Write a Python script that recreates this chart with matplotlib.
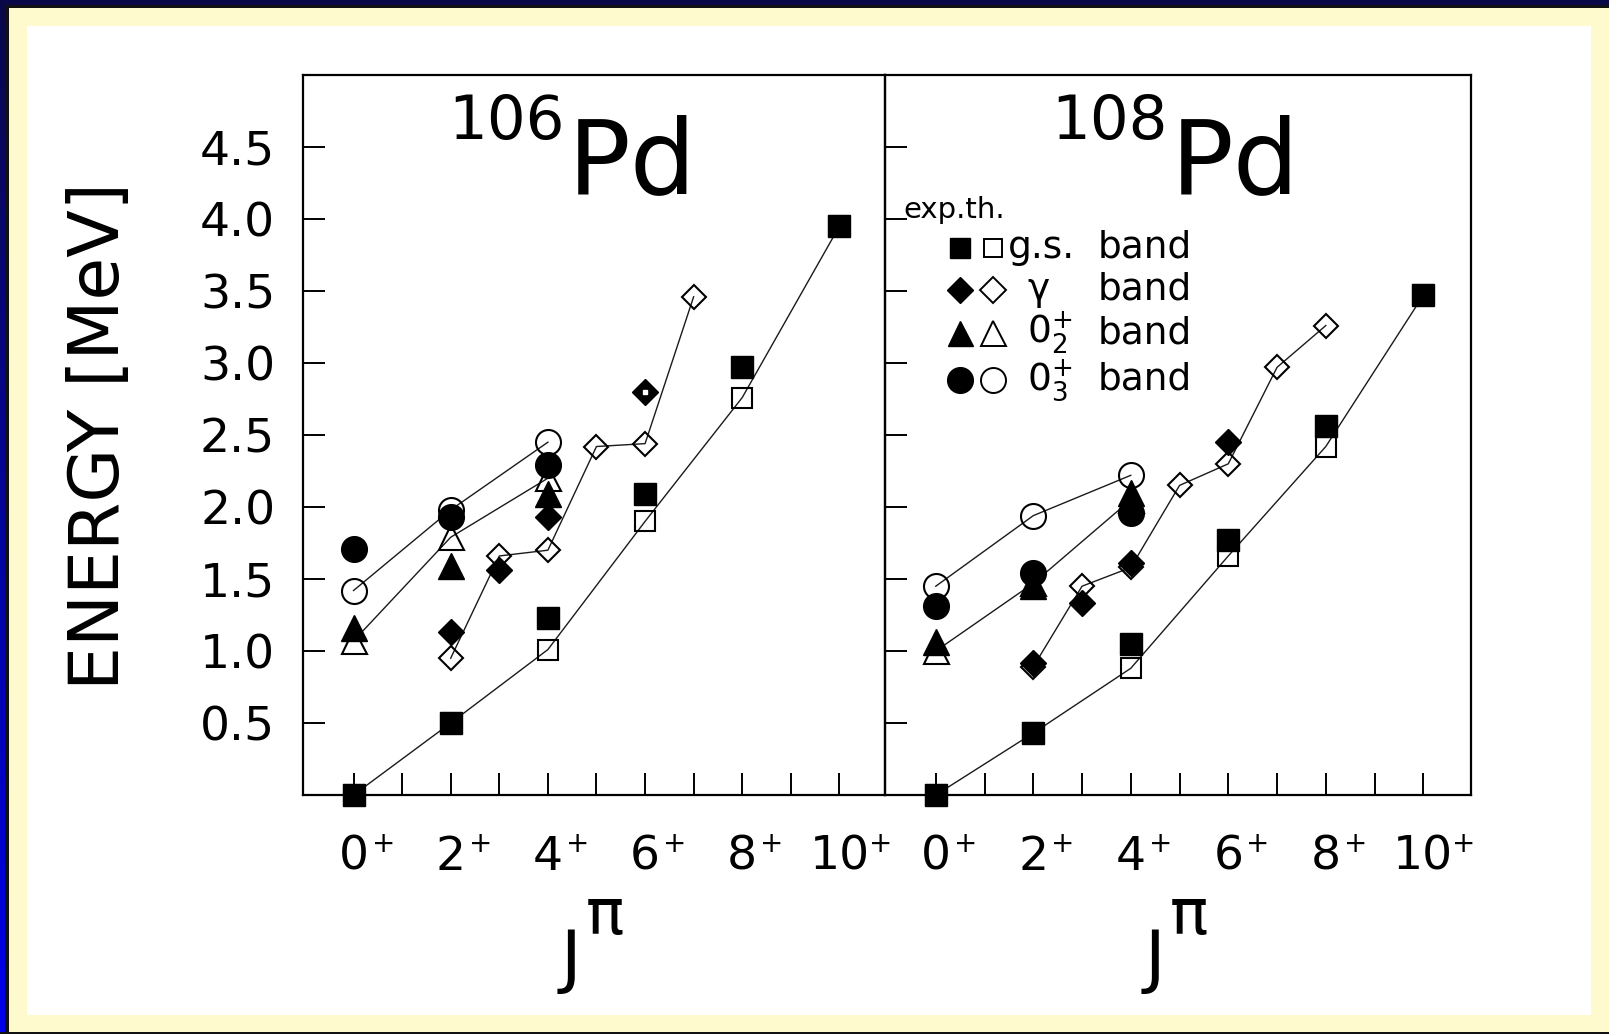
import numpy as np
import matplotlib
matplotlib.use("Agg")
import matplotlib.pyplot as plt
from matplotlib.patches import Rectangle
from matplotlib.transforms import blended_transform_factory, ScaledTranslation

plt.rcParams['font.family'] = ['DejaVu Sans']

# ---------------- data ----------------
gs_J = [0, 2, 4, 6, 8, 10]
pd106_gs_exp = [0.00, 0.50, 1.23, 2.09, 2.97, 3.95]
pd106_gs_th = [0.00, 0.50, 1.01, 1.90, 2.76, 3.95]
pd106_gam_exp_J = [2, 3, 4, 6]
pd106_gam_exp = [1.13, 1.56, 1.93, 2.80]
pd106_gam_th_J = [2, 3, 4, 5, 6, 7]
pd106_gam_th = [0.95, 1.66, 1.70, 2.42, 2.44, 3.46]
band0_J = [0, 2, 4]
pd106_02_exp = [1.16, 1.59, 2.09]
pd106_02_th = [1.07, 1.79, 2.20]
pd106_03_exp = [1.71, 1.93, 2.29]
pd106_03_th = [1.42, 1.98, 2.45]

pd108_gs_exp = [0.00, 0.43, 1.05, 1.77, 2.56, 3.47]
pd108_gs_th = [0.00, 0.43, 0.88, 1.66, 2.42, 3.47]
pd108_gam_exp_J = [2, 3, 4, 6]
pd108_gam_exp = [0.92, 1.33, 1.61, 2.45]
pd108_gam_th_J = [2, 3, 4, 5, 6, 7, 8]
pd108_gam_th = [0.89, 1.45, 1.58, 2.15, 2.30, 2.97, 3.26]
pd108_02_exp = [1.06, 1.45, 2.10]
pd108_02_th = [1.00, 1.47, 2.05]
pd108_03_exp = [1.31, 1.54, 1.96]
pd108_03_th = [1.45, 1.94, 2.22]

y_ticks = [0.5, 1.0, 1.5, 2.0, 2.5, 3.0, 3.5, 4.0, 4.5]
y_ticklabels = ["0.5", "1.0", "1.5", "2.0", "2.5", "3.0", "3.5", "4.0", "4.5"]
x_label_J = [0, 2, 4, 6, 8, 10]
x_label_txt = ["0", "2", "4", "6", "8", "10"]
nuclei = [("106", "Pd"), ("108", "Pd")]
legend_labels = ["g.s.", "γ", "$0^{+}_{2}$", "$0^{+}_{3}$"]

# ---------------- figure & frame ----------------
W, H = 1609, 1034
fig = plt.figure(figsize=(W / 100, H / 100), dpi=100)
fig.patch.set_facecolor('#0a0848')

bg = fig.add_axes([0, 0, 1, 1], zorder=0)
bg.axis('off')
t = np.linspace(0, 1, 256)
top_c = np.array([10, 8, 72]) / 255.0
bot_c = np.array([0, 0, 235]) / 255.0
grad = (top_c[None, :] * (1 - t[:, None]) + bot_c[None, :] * t[:, None])[:, None, :]
bg.imshow(grad, extent=(0, 5.5, H, 0), origin='upper', aspect='auto', interpolation='bilinear')
bg.add_patch(Rectangle((5.5, 5), 3.5, H, color='#111111', lw=0))
bg.add_patch(Rectangle((5.5, 5), W, 3.2, color='#111111', lw=0))
bg.add_patch(Rectangle((9, 8.2), W, 1032 - 8.2, color='#FFF9CE', lw=0))
bg.add_patch(Rectangle((0, 1032), W, 2, color='#111111', lw=0))
bg.add_patch(Rectangle((27, 26), 1591 - 27, 1015 - 26, color='white', lw=0))
bg.set_xlim(0, W)
bg.set_ylim(H, 0)

ov = fig.add_axes([0, 0, 1, 1], zorder=10)
ov.set_xlim(0, W)
ov.set_ylim(H, 0)
ov.axis('off')
ov.patch.set_alpha(0)

y_bot, y_top = 795.0, 75.0
x0, xm, x1 = 303.0, 884.6, 1470.6
ax1 = fig.add_axes([x0 / W, 1 - y_bot / H, (xm - x0) / W, (y_bot - y_top) / H], zorder=2)
ax2 = fig.add_axes([xm / W, 1 - y_bot / H, (x1 - xm) / W, (y_bot - y_top) / H], zorder=2)
ax1.set_xlim(-1.04, 10.93)
ax2.set_xlim(-1.05, 10.97)

LC = '#1a1a1a'

def panel(ax, gs_exp, gs_th, gJe, gexp, gJt, gth, e02, t02, e03, t03):
    kw_line = dict(color=LC, lw=1.0, zorder=2, clip_on=False)
    for xs, ys in [(gs_J, gs_th), (gJt, gth), (band0_J, t02), (band0_J, t03)]:
        ax.plot(xs, ys, '-', **kw_line)
    kw_open = dict(ls='none', mfc='none', mec='black', mew=1.5, zorder=3, clip_on=False)
    ax.plot(gs_J, gs_th, marker='s', ms=15, **kw_open)
    ax.plot(gJt, gth, marker='D', ms=12.5, **kw_open)
    ax.plot(band0_J, t02, marker='^', ms=18, **kw_open)
    ax.plot(band0_J, t03, marker='o', ms=18, **kw_open)
    kw_fill = dict(ls='none', color='black', zorder=4, clip_on=False)
    ax.plot(gs_J, gs_exp, marker='s', ms=15.5, **kw_fill)
    ax.plot(gJe, gexp, marker='D', ms=13.5, **kw_fill)
    ax.plot(band0_J, e02, marker='^', ms=18.5, **kw_fill)
    ax.plot(band0_J, e03, marker='o', ms=18.5, **kw_fill)

    ax.set_ylim(0, 5.0)
    ax.set_yticks(y_ticks)
    ax.set_xticks(range(0, 11))
    ax.tick_params(direction='in', length=16, width=1.4, top=False, right=False,
                   labelbottom=False)
    for s in ax.spines.values():
        s.set_linewidth(1.6)
    ax.set_facecolor('none')

    tr = blended_transform_factory(ax.transData, ax.transAxes)
    for J, lab in zip(x_label_J, x_label_txt):
        ax.text(J, -0.104, lab, transform=tr, ha='center', va='baseline',
                fontsize=34, clip_on=False)
        dx = 13 if len(lab) == 1 else 21
        ax.text(J, -0.079, '+', ha='left', va='baseline', fontsize=20,
                transform=tr + ScaledTranslation(dx / 72, 0, fig.dpi_scale_trans),
                clip_on=False)

panel(ax1, pd106_gs_exp, pd106_gs_th, pd106_gam_exp_J, pd106_gam_exp, pd106_gam_th_J,
      pd106_gam_th, pd106_02_exp, pd106_02_th, pd106_03_exp, pd106_03_th)
panel(ax2, pd108_gs_exp, pd108_gs_th, pd108_gam_exp_J, pd108_gam_exp, pd108_gam_th_J,
      pd108_gam_th, pd108_02_exp, pd108_02_th, pd108_03_exp, pd108_03_th)

# the odd 6+ gamma exp point in 106Pd has a white centre
ax1.plot([pd106_gam_exp_J[-1]], [pd106_gam_exp[-1]], ls='none', marker='s', ms=3.5,
         color='white', zorder=5)

ax1.set_yticklabels(y_ticklabels, fontsize=34)
ax1.tick_params(axis='y', pad=20)
ax2.tick_params(axis='y', labelleft=False)

# ---------------- texts ----------------
ov.text(100, 436, 'ENERGY [MeV]', rotation=90, fontsize=50, ha='center', va='center')

title_pos = [(448, 138.5, 568, 193), (1051, 138.5, 1171, 193)]
for (mass, el), (xs, ys, xe, ye) in zip(nuclei, title_pos):
    ov.text(xs, ys, mass, fontsize=44, ha='left', va='baseline')
    ov.text(xe, ye, el, fontsize=75, ha='left', va='baseline')

for xc in [(x0 + xm) / 2, (xm + x1) / 2]:
    ov.text(xc - 33, 980, 'J', fontsize=50, ha='left', va='baseline')
    ov.text(xc - 8, 934, 'π', fontsize=46, ha='left', va='baseline')

# ---------------- legend ----------------
ov.text(903, 218, 'exp.th.', fontsize=21, ha='left', va='baseline')
rows_y = [248, 290, 333, 380]
mk = ['s', 'D', '^', 'o']
ms_f = [14, 13, 18, 18.5]
ms_o = [13, 13, 18, 18]
for yy, m, mf, mo, lab in zip(rows_y, mk, ms_f, ms_o, legend_labels):
    ov.plot([960], [yy], ls='none', marker=m, ms=mf, color='black')
    ov.plot([993], [yy], ls='none', marker=m, ms=mo, mfc='none', mec='black', mew=1.4)
    ov.text(1008 if lab == 'g.s.' else 1027, yy + 10, lab, fontsize=27, ha='left', va='baseline')
    ov.text(1098, yy + 10, 'band', fontsize=27, ha='left', va='baseline')

fig.savefig('out.png', dpi=100, facecolor=fig.get_facecolor())
